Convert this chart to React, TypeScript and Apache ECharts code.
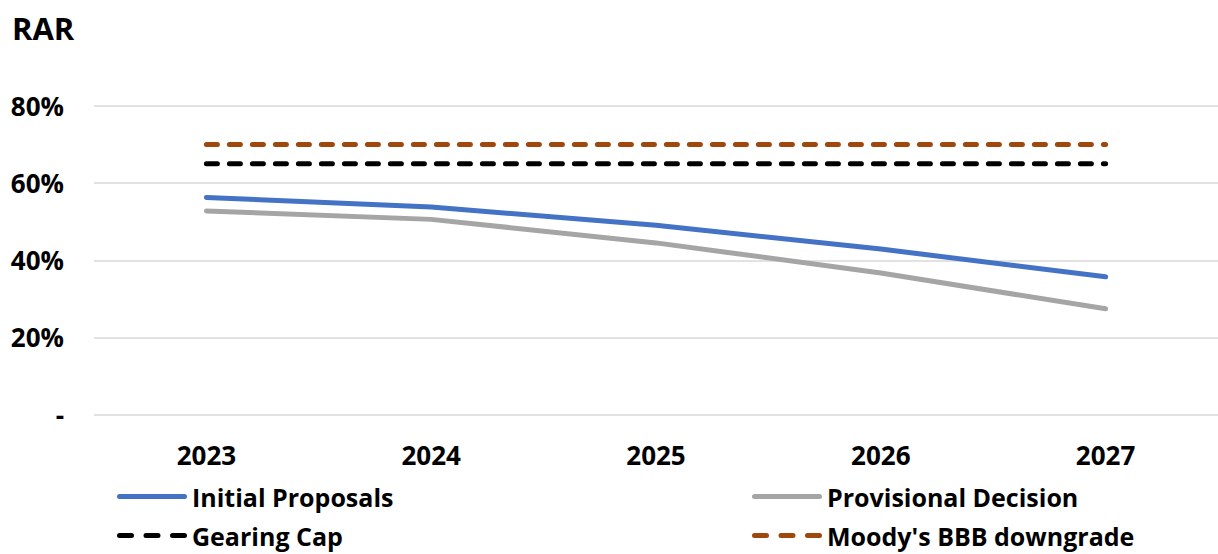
import React, { useEffect, useRef } from "react";
import * as echarts from "echarts";

// Regulated asset ratio (RAR) projections, % of RAV
const years = ["2023", "2024", "2025", "2026", "2027"];
const initialProposals = [56.3, 53.8, 49.1, 42.9, 35.7];
const provisionalDecision = [52.8, 50.6, 44.5, 36.7, 27.4];
const gearingCap = [65, 65, 65, 65, 65];
const moodysDowngrade = [70, 70, 70, 70, 70];
const yTicks = { min: 0, max: 80, interval: 20 };

const FONT = "Open Sans";
const BLUE = "#4472C4";
const GREY = "#A5A5A5";
const BLACK = "#000000";
const RUST = "#9E480E";

const textStyle = { fontFamily: FONT, fontWeight: "bold" as const, fontSize: 26, color: "#000" };

// Legend keys: a rounded bar for solid lines, three rounded dashes for dashed lines
const pill = (x: number, w: number) =>
  `M${x + 2.5},0 h${w - 5} a2.5,2.5 0 0 1 0,5 h${-(w - 5)} a2.5,2.5 0 0 1 0,-5 z`;
const SOLID_KEY = "path://" + pill(0, 70);
const DASH_KEY = "path://" + [pill(0, 17), pill(26.5, 17), pill(53, 17)].join(" ");

function legendAt(name: string, left: number, top: number, dashed: boolean) {
  return {
    data: [name],
    left,
    top,
    orient: "horizontal",
    padding: 0,
    icon: dashed ? DASH_KEY : SOLID_KEY,
    itemWidth: 70,
    itemHeight: 5,
    textStyle: { ...textStyle, fontSize: 25 },
    selectedMode: false,
  };
}

function lineSeries(name: string, data: number[], color: string, dashed: boolean) {
  return {
    name,
    type: "line",
    data,
    symbol: "none",
    smooth: false,
    lineStyle: {
      color,
      width: 5,
      type: dashed ? [11, 12] : "solid",
      cap: "round",
      join: "round",
    },
    itemStyle: { color },
    emphasis: { disabled: true },
  };
}

export default function App() {
  const ref = useRef<HTMLDivElement>(null);

  useEffect(() => {
    if (!ref.current) return;
    const chart = echarts.init(ref.current, undefined, { renderer: "svg" });
    chart.setOption({
      animation: false,
      backgroundColor: "#fff",
      title: {
        text: "RAR",
        left: 12,
        top: 12,
        padding: 0,
        textStyle: { ...textStyle, fontSize: 31 },
      },
      grid: { left: 94, right: -13, top: 106, bottom: 139.5, containLabel: false },
      xAxis: {
        type: "category",
        data: years,
        boundaryGap: true,
        axisLine: { show: false },
        axisTick: { show: false },
        axisLabel: { ...textStyle, margin: 27 },
        splitLine: { show: false },
      },
      yAxis: {
        type: "value",
        min: yTicks.min,
        max: yTicks.max,
        interval: yTicks.interval,
        axisLine: { show: false },
        axisTick: { show: false },
        axisLabel: {
          ...textStyle,
          margin: 30,
          formatter: (v: number) => (v === 0 ? "-" : `${v}%`),
        },
        splitLine: { lineStyle: { color: "#D9D9D9", width: 1.5 } },
      },
      legend: [
        legendAt("Initial Proposals", 117, 484, false),
        legendAt("Provisional Decision", 752, 484, false),
        legendAt("Gearing Cap", 117, 523, true),
        legendAt("Moody's BBB downgrade", 752, 523, true),
      ],
      series: [
        lineSeries("Initial Proposals", initialProposals, BLUE, false),
        lineSeries("Provisional Decision", provisionalDecision, GREY, false),
        lineSeries("Gearing Cap", gearingCap, BLACK, true),
        lineSeries("Moody's BBB downgrade", moodysDowngrade, RUST, true),
      ],
    });
    return () => chart.dispose();
  }, []);

  return (
    <div
      ref={ref}
      style={{ position: "fixed", left: 0, top: 0, width: 1218, height: 554, background: "#fff" }}
    />
  );
}
